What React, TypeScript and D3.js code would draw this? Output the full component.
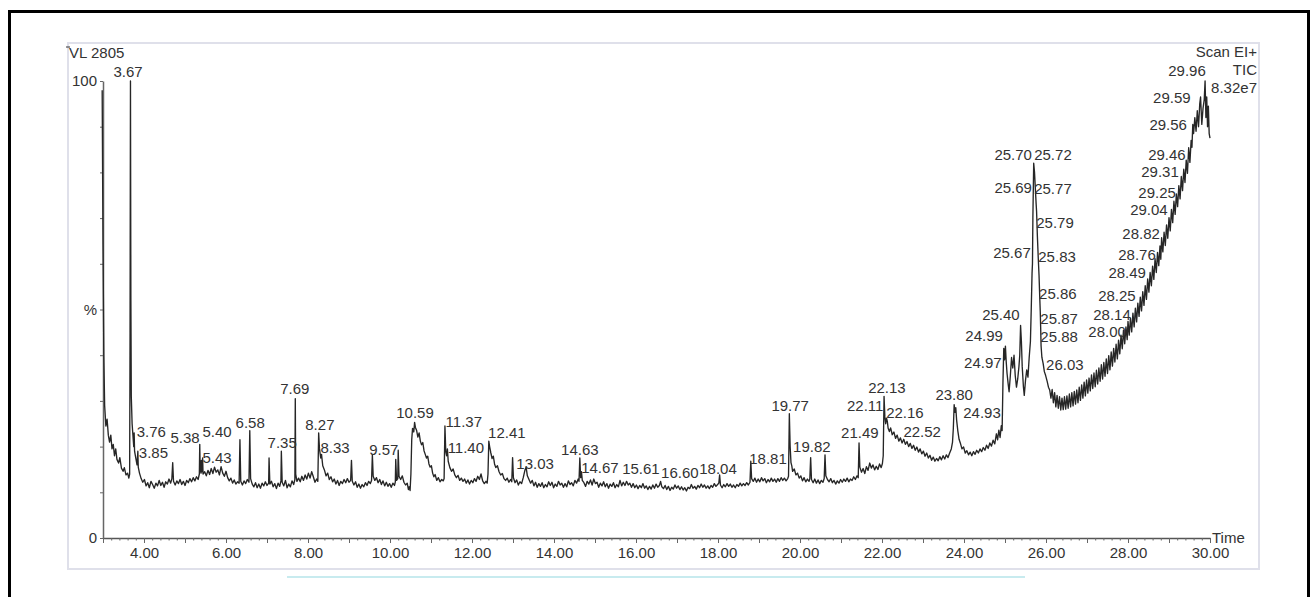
import React, { Component } from 'react'
import * as d3 from 'd3'

// TIC trace, [time (min), intensity (%)]
const ticTrace: [number, number][] = [
  [2.98, 98], [3.0, 64], [3.02, 40], [3.04, 29], [3.07, 24.5], [3.1, 26], [3.13, 22.5], [3.16, 21], [3.19, 22.5], [3.22, 19.5],
  [3.25, 20.5], [3.28, 18], [3.31, 19.5], [3.34, 17.2], [3.38, 16.4], [3.41, 17.6], [3.45, 15.3], [3.49, 14.6], [3.52, 15.4], [3.56, 13.8],
  [3.6, 14.2], [3.63, 13.1], [3.65, 14], [3.66, 45], [3.67, 100], [3.68, 52], [3.69, 31], [3.71, 25], [3.73, 22.5], [3.75, 20],
  [3.76, 23], [3.77, 19], [3.8, 17.5], [3.83, 16], [3.85, 19], [3.86, 15.5], [3.89, 14.2], [3.93, 13], [3.97, 12.2], [4.01, 12.8],
  [4.05, 11.4], [4.09, 12.1], [4.13, 11.0], [4.17, 12.4], [4.21, 11.7], [4.25, 10.9], [4.29, 12.0], [4.33, 11.4], [4.37, 12.6], [4.41, 11.5],
  [4.45, 12.2], [4.49, 11.1], [4.53, 12.3], [4.57, 11.8], [4.61, 12.9], [4.65, 12.0], [4.68, 13.0], [4.7, 16.5], [4.72, 12.4], [4.76, 11.6],
  [4.8, 12.5], [4.84, 11.9], [4.88, 12.8], [4.92, 11.7], [4.96, 12.4], [5.0, 11.5], [5.04, 12.6], [5.08, 12.1], [5.12, 13.0], [5.16, 12.3],
  [5.2, 13.2], [5.24, 12.5], [5.28, 13.4], [5.32, 12.8], [5.35, 14], [5.36, 20.5], [5.37, 15], [5.39, 14.2], [5.4, 17], [5.41, 14.5],
  [5.43, 17.5], [5.44, 14], [5.48, 14.5], [5.52, 13.6], [5.56, 14.8], [5.6, 13.9], [5.64, 15.2], [5.68, 14.1], [5.72, 15.5], [5.76, 14.4],
  [5.8, 14.9], [5.84, 13.8], [5.88, 15.6], [5.92, 14.2], [5.96, 13.5], [6.0, 14.6], [6.04, 13.2], [6.08, 12.5], [6.12, 13.1], [6.16, 12.0],
  [6.2, 12.7], [6.24, 11.8], [6.28, 12.3], [6.32, 12.0], [6.34, 21.5], [6.36, 12.4], [6.4, 11.6], [6.44, 12.5], [6.48, 11.9], [6.52, 12.8],
  [6.56, 12.2], [6.58, 23.5], [6.6, 13.0], [6.64, 11.8], [6.68, 11.2], [6.72, 12.1], [6.76, 11.0], [6.8, 11.8], [6.84, 10.9], [6.88, 12.0],
  [6.92, 11.4], [6.96, 12.3], [7.0, 11.5], [7.04, 12.0], [7.05, 17.5], [7.07, 11.8], [7.11, 12.4], [7.15, 11.2], [7.19, 11.9], [7.23, 10.8],
  [7.27, 12.0], [7.31, 11.3], [7.34, 12.5], [7.35, 19], [7.37, 12.2], [7.41, 11.4], [7.45, 12.6], [7.49, 11.0], [7.53, 11.8], [7.57, 11.2],
  [7.61, 12.5], [7.65, 11.7], [7.68, 12.8], [7.69, 30.5], [7.7, 14], [7.73, 12.4], [7.77, 13.1], [7.81, 12.3], [7.85, 13.5], [7.89, 12.6],
  [7.93, 13.8], [7.97, 12.9], [8.01, 14.2], [8.05, 13.1], [8.09, 14.5], [8.13, 13.4], [8.17, 12.2], [8.21, 12.9], [8.24, 12.4], [8.26, 23],
  [8.28, 19.5], [8.31, 17.5], [8.33, 18.3], [8.36, 15.8], [8.4, 14.9], [8.44, 13.6], [8.48, 14.2], [8.52, 12.8], [8.56, 13.4], [8.6, 12.3],
  [8.64, 12.9], [8.68, 11.8], [8.72, 12.6], [8.76, 11.5], [8.8, 12.4], [8.84, 11.9], [8.88, 12.8], [8.92, 12.1], [8.96, 13.0], [9.0, 12.2],
  [9.04, 12.6], [9.06, 17], [9.08, 12.4], [9.12, 11.6], [9.16, 12.3], [9.2, 11.1], [9.24, 11.8], [9.28, 10.9], [9.32, 11.7], [9.36, 11.2],
  [9.4, 12.1], [9.44, 11.5], [9.48, 12.4], [9.52, 11.9], [9.55, 12.6], [9.57, 18.2], [9.59, 13.5], [9.63, 12.6], [9.67, 13.2], [9.71, 12.1],
  [9.75, 12.8], [9.79, 11.7], [9.83, 12.5], [9.87, 11.4], [9.91, 12.2], [9.95, 11.3], [9.99, 11.9], [10.03, 11.1], [10.07, 12.0], [10.11, 11.5],
  [10.13, 12.3], [10.14, 17.2], [10.16, 12.6], [10.19, 13], [10.2, 19.2], [10.22, 13.5], [10.26, 12.8], [10.3, 13.6], [10.34, 12.2], [10.38, 11.6],
  [10.42, 12.0], [10.45, 10.6], [10.47, 11.2], [10.49, 10.4], [10.51, 14], [10.53, 21.5], [10.55, 24], [10.58, 23.2], [10.6, 25.3], [10.62, 24.2],
  [10.65, 23.5], [10.68, 22.1], [10.71, 23.0], [10.74, 21.2], [10.77, 20.4], [10.8, 20.9], [10.83, 19.1], [10.86, 18.3], [10.89, 17.5], [10.92, 17.9],
  [10.95, 16.2], [10.98, 15.5], [11.01, 15.8], [11.04, 14.2], [11.07, 13.4], [11.1, 13.9], [11.14, 12.6], [11.18, 13.2], [11.22, 12.3], [11.26, 12.8],
  [11.3, 12.5], [11.32, 13], [11.34, 24.5], [11.36, 19], [11.38, 18], [11.4, 19.5], [11.42, 16.8], [11.46, 15.4], [11.5, 14.6], [11.54, 15.1],
  [11.58, 13.8], [11.62, 13.2], [11.66, 13.7], [11.7, 12.6], [11.74, 13.1], [11.78, 12.4], [11.82, 12.9], [11.86, 12.0], [11.9, 12.7], [11.94, 11.8],
  [11.98, 12.6], [12.02, 12.1], [12.06, 13.0], [12.1, 12.4], [12.14, 13.5], [12.18, 12.8], [12.22, 14.0], [12.26, 12.5], [12.3, 11.9], [12.34, 12.4],
  [12.37, 12.0], [12.39, 14], [12.41, 21.2], [12.43, 20], [12.46, 18.6], [12.49, 17.4], [12.52, 17.9], [12.55, 16.2], [12.58, 15.4], [12.62, 15.8],
  [12.66, 14.5], [12.7, 13.8], [12.74, 14.1], [12.78, 13.0], [12.82, 12.6], [12.86, 13.1], [12.9, 12.2], [12.94, 12.8], [12.97, 12.3], [12.99, 17.6],
  [13.01, 13.2], [13.05, 12.1], [13.09, 12.7], [13.13, 11.6], [13.17, 12.3], [13.21, 11.9], [13.25, 13.2], [13.29, 14.8], [13.32, 15.5], [13.35, 13.6],
  [13.39, 12.8], [13.43, 12.0], [13.47, 12.6], [13.51, 11.4], [13.55, 12.2], [13.59, 11.1], [13.63, 11.9], [13.67, 11.3], [13.71, 12.1], [13.75, 11.0],
  [13.79, 11.7], [13.83, 11.2], [13.87, 12.3], [13.91, 11.5], [13.95, 12.2], [13.99, 11.0], [14.03, 11.8], [14.07, 11.3], [14.11, 12.4], [14.15, 11.6],
  [14.19, 12.0], [14.23, 11.1], [14.27, 11.9], [14.31, 11.2], [14.35, 12.5], [14.39, 11.7], [14.43, 12.1], [14.47, 11.4], [14.51, 12.6], [14.55, 12.0],
  [14.59, 12.9], [14.61, 12.4], [14.63, 17.5], [14.65, 13.2], [14.67, 14.5], [14.69, 12.6], [14.73, 12.1], [14.77, 11.3], [14.81, 12.4], [14.85, 11.8],
  [14.89, 12.7], [14.93, 11.6], [14.97, 12.9], [15.01, 11.9], [15.05, 12.2], [15.09, 11.1], [15.13, 12.0], [15.17, 11.4], [15.21, 12.3], [15.25, 11.2],
  [15.29, 11.9], [15.33, 10.9], [15.37, 11.8], [15.41, 11.3], [15.45, 12.1], [15.49, 11.0], [15.53, 11.7], [15.57, 11.2], [15.61, 12.6], [15.65, 11.4],
  [15.69, 12.2], [15.73, 11.5], [15.77, 12.4], [15.81, 11.6], [15.85, 12.0], [15.89, 11.1], [15.93, 11.9], [15.97, 11.0], [16.01, 11.6], [16.05, 10.8],
  [16.09, 11.5], [16.13, 11.0], [16.17, 11.9], [16.21, 10.9], [16.25, 11.4], [16.29, 10.6], [16.33, 11.3], [16.37, 10.7], [16.41, 11.6], [16.45, 10.9],
  [16.49, 11.8], [16.53, 11.1], [16.57, 11.5], [16.6, 12.4], [16.63, 11.2], [16.67, 10.8], [16.71, 11.5], [16.75, 10.6], [16.79, 11.3], [16.83, 10.4],
  [16.87, 11.1], [16.91, 10.7], [16.95, 11.6], [16.99, 10.9], [17.03, 11.4], [17.07, 10.6], [17.11, 11.2], [17.15, 10.5], [17.19, 11.0], [17.23, 10.3],
  [17.27, 11.1], [17.31, 10.8], [17.35, 11.7], [17.39, 10.9], [17.43, 11.3], [17.47, 10.7], [17.51, 11.5], [17.55, 11.0], [17.59, 11.8], [17.63, 11.1],
  [17.67, 11.6], [17.71, 10.9], [17.75, 11.4], [17.79, 10.8], [17.83, 11.5], [17.87, 11.1], [17.91, 11.9], [17.95, 11.3], [17.99, 11.7], [18.02, 12],
  [18.04, 13.8], [18.06, 11.6], [18.1, 11.0], [18.14, 11.7], [18.18, 11.2], [18.22, 11.9], [18.26, 11.3], [18.3, 11.8], [18.34, 11.1], [18.38, 11.6],
  [18.42, 11.0], [18.46, 11.7], [18.5, 11.3], [18.54, 12.0], [18.58, 11.4], [18.62, 11.9], [18.66, 11.5], [18.7, 12.1], [18.74, 11.6], [18.78, 12.2],
  [18.8, 16.8], [18.82, 13.0], [18.86, 12.4], [18.9, 13.1], [18.94, 12.2], [18.98, 12.9], [19.02, 12.3], [19.06, 13.2], [19.1, 12.5], [19.14, 13.0],
  [19.18, 12.1], [19.22, 12.8], [19.26, 12.3], [19.3, 13.1], [19.34, 12.4], [19.38, 12.9], [19.42, 12.2], [19.46, 13.0], [19.5, 12.4], [19.54, 13.2],
  [19.58, 12.6], [19.62, 13.1], [19.66, 12.5], [19.7, 13.0], [19.72, 13.5], [19.74, 27.2], [19.76, 20], [19.78, 16.5], [19.8, 15.8], [19.82, 14.6],
  [19.86, 15.1], [19.9, 13.8], [19.94, 14.2], [19.98, 13.1], [20.02, 13.6], [20.06, 12.5], [20.1, 13.2], [20.14, 12.3], [20.18, 12.9], [20.22, 12.4],
  [20.24, 13], [20.26, 17.6], [20.28, 12.8], [20.32, 12.1], [20.36, 12.9], [20.4, 12.0], [20.44, 12.7], [20.48, 11.9], [20.52, 12.6], [20.56, 12.2],
  [20.59, 13], [20.61, 18.2], [20.63, 13.6], [20.67, 12.8], [20.71, 12.3], [20.75, 13.0], [20.79, 12.1], [20.83, 12.6], [20.87, 11.8], [20.91, 12.5],
  [20.95, 12.0], [20.99, 12.8], [21.03, 12.2], [21.07, 12.9], [21.11, 12.4], [21.15, 13.1], [21.19, 12.3], [21.23, 12.9], [21.27, 12.6], [21.31, 13.4],
  [21.35, 12.8], [21.39, 13.6], [21.42, 13.2], [21.44, 20.8], [21.46, 15.5], [21.5, 14.4], [21.54, 15.2], [21.58, 14.1], [21.62, 15.6], [21.66, 14.8],
  [21.7, 16.4], [21.74, 15.3], [21.78, 16.0], [21.82, 14.9], [21.86, 15.7], [21.9, 15.0], [21.94, 16.2], [21.98, 15.4], [22.01, 16.3], [22.03, 18],
  [22.05, 31], [22.07, 26.5], [22.09, 25], [22.11, 26.2], [22.13, 25.5], [22.15, 24.0], [22.18, 23.3], [22.21, 24.1], [22.25, 22.6], [22.29, 23.2],
  [22.33, 21.8], [22.37, 22.5], [22.41, 21.2], [22.45, 21.9], [22.49, 20.8], [22.53, 21.6], [22.57, 20.5], [22.61, 21.1], [22.65, 20.0], [22.69, 20.7],
  [22.73, 19.6], [22.77, 20.3], [22.81, 19.2], [22.85, 19.9], [22.89, 18.8], [22.93, 19.5], [22.97, 18.4], [23.01, 19.0], [23.05, 17.9], [23.09, 18.6],
  [23.13, 17.5], [23.17, 18.1], [23.21, 17.0], [23.25, 17.7], [23.29, 16.8], [23.33, 17.4], [23.37, 16.9], [23.41, 17.8], [23.45, 17.1], [23.49, 18.0],
  [23.53, 17.3], [23.57, 18.2], [23.61, 17.6], [23.65, 18.6], [23.69, 19.5], [23.72, 21], [23.74, 24], [23.76, 29.2], [23.78, 27.5], [23.8, 28.5],
  [23.82, 25.8], [23.85, 23.4], [23.88, 21.6], [23.91, 20.8], [23.95, 19.5], [23.99, 19.9], [24.03, 18.6], [24.07, 19.1], [24.11, 18.2], [24.15, 18.8],
  [24.19, 18.0], [24.23, 18.9], [24.27, 18.3], [24.31, 19.2], [24.35, 18.6], [24.39, 19.5], [24.43, 18.9], [24.47, 19.8], [24.51, 19.2], [24.55, 20.3],
  [24.59, 19.6], [24.63, 20.8], [24.67, 20.1], [24.71, 21.4], [24.75, 20.6], [24.79, 22.8], [24.82, 21.5], [24.85, 23.6], [24.88, 22.0], [24.91, 24.6],
  [24.93, 23.5], [24.95, 34], [24.97, 41.5], [24.99, 39], [25.01, 42], [25.03, 38.5], [25.05, 36], [25.08, 33.5], [25.1, 32], [25.13, 35.5],
  [25.16, 39.5], [25.19, 37.2], [25.22, 40], [25.25, 35.5], [25.28, 33], [25.31, 34.8], [25.34, 37.5], [25.36, 40], [25.38, 46.5], [25.4, 43],
  [25.42, 37.5], [25.45, 33], [25.47, 31.2], [25.5, 34.5], [25.53, 36.8], [25.56, 35.2], [25.59, 39.5], [25.62, 43], [25.64, 50], [25.66, 58],
  [25.67, 60], [25.68, 70], [25.69, 76], [25.7, 82], [25.71, 81], [25.72, 80], [25.74, 76.5], [25.76, 73], [25.77, 71.5], [25.79, 66],
  [25.81, 61.5], [25.83, 57.5], [25.85, 52], [25.86, 49.5], [25.87, 46], [25.88, 42], [25.9, 39.5], [25.93, 38.2], [25.96, 36.4], [25.99, 35.6],
  [26.03, 34.2], [26.06, 33.0], [26.09, 32.4], [26.12, 30.6], [26.15, 32.5], [26.18, 29.6], [26.21, 31.8], [26.24, 28.7], [26.27, 31.2], [26.3, 28.4],
  [26.33, 30.9], [26.36, 28.0], [26.39, 30.6], [26.42, 28.1], [26.45, 30.9], [26.48, 28.2], [26.51, 31.1], [26.54, 28.4], [26.57, 31.5], [26.6, 28.7],
  [26.63, 31.8], [26.66, 28.9], [26.69, 32.1], [26.72, 29.3], [26.75, 32.4], [26.78, 29.6], [26.81, 33.0], [26.84, 30.1], [26.87, 33.5], [26.9, 30.6],
  [26.93, 34.1], [26.96, 31.1], [26.99, 34.6], [27.02, 31.7], [27.05, 35.0], [27.08, 32.2], [27.11, 35.7], [27.14, 32.7], [27.17, 36.1], [27.2, 33.1],
  [27.23, 36.7], [27.26, 33.7], [27.29, 37.2], [27.32, 34.3], [27.35, 37.9], [27.38, 34.8], [27.41, 38.4], [27.44, 35.4], [27.47, 39.2], [27.5, 36.0],
  [27.53, 39.9], [27.56, 36.8], [27.59, 40.7], [27.62, 37.6], [27.65, 41.5], [27.68, 38.5], [27.71, 42.4], [27.74, 39.2], [27.77, 43.3], [27.8, 40.3],
  [27.83, 44.4], [27.86, 41.4], [27.89, 45.5], [27.92, 42.5], [27.95, 46.2], [27.98, 43.4], [28.0, 47.4], [28.03, 44.4], [28.06, 48.1], [28.09, 45.1],
  [28.12, 49.2], [28.15, 46.2], [28.18, 50.3], [28.21, 47.3], [28.24, 51.4], [28.27, 48.5], [28.3, 52.7], [28.33, 49.7], [28.36, 53.9], [28.39, 50.9],
  [28.42, 55.2], [28.45, 52.2], [28.48, 56.7], [28.51, 53.8], [28.54, 58.1], [28.57, 55.2], [28.6, 59.5], [28.63, 56.6], [28.66, 61.1], [28.69, 58.1],
  [28.72, 62.5], [28.75, 59.6], [28.78, 63.9], [28.8, 61.0], [28.82, 65.7], [28.85, 62.6], [28.88, 66.9], [28.91, 64.0], [28.94, 68.5], [28.97, 65.6],
  [29.0, 70.1], [29.03, 67.2], [29.06, 71.9], [29.09, 69.0], [29.12, 73.7], [29.15, 70.8], [29.18, 75.3], [29.21, 72.5], [29.24, 77.1], [29.27, 74.2],
  [29.3, 79.1], [29.33, 76.0], [29.36, 80.7], [29.39, 77.8], [29.42, 82.7], [29.45, 79.8], [29.48, 85.4], [29.51, 82.2], [29.54, 87.0], [29.56, 85.5],
  [29.58, 90.5], [29.6, 88.5], [29.63, 92.0], [29.66, 89.0], [29.69, 93.5], [29.72, 90.0], [29.75, 95.0], [29.77, 96.5], [29.8, 90.5], [29.83, 94.0],
  [29.86, 96.0], [29.88, 100], [29.9, 92.0], [29.92, 96.5], [29.94, 90.0], [29.96, 94.5], [29.98, 88.5], [30.0, 87.5]
]

// peak labels as printed, with where each label sits [time, %]
const peakLabels = [
  '3.67', '3.76', '3.85', '5.38', '5.40', '5.43', '6.58', '7.35', '7.69', '8.27',
  '8.33', '9.57', '10.59', '11.37', '11.40', '12.41', '13.03', '14.63', '14.67', '15.61',
  '16.60', '18.04', '18.81', '19.77', '19.82', '21.49', '22.11', '22.13', '22.16', '22.52',
  '23.80', '24.93', '24.97', '24.99', '25.40', '25.67', '25.69', '25.70', '25.72', '25.77',
  '25.79', '25.83', '25.86', '25.87', '25.88', '26.03', '28.00', '28.14', '28.25', '28.49',
  '28.76', '28.82', '29.04', '29.25', '29.31', '29.46', '29.56', '29.59', '29.96'
]
const labelAt: [number, number][] = [
  [3.61, 102], [4.18, 23.2], [4.23, 18.8], [5.0, 22.1], [5.78, 23.2], [5.78, 17.7], [6.59, 25.2], [7.37, 20.8], [7.68, 32.8], [8.29, 24.9],
  [8.66, 19.9], [9.85, 19.3], [10.61, 27.4], [11.8, 25.6], [11.85, 19.9], [12.85, 23], [13.54, 16.4], [14.63, 19.3], [15.12, 15.5], [16.12, 15.3],
  [17.07, 14.4], [18.0, 15.3], [19.22, 17.5], [19.76, 28.9], [20.29, 20.1], [21.46, 23], [21.59, 29.1], [22.12, 33], [22.56, 27.4], [22.98, 23.4],
  [23.76, 31.5], [24.44, 27.4], [24.46, 38.3], [24.49, 44.4], [24.9, 48.8], [25.17, 62.4], [25.2, 76.6], [25.2, 84], [26.17, 84], [26.17, 76.4],
  [26.22, 69], [26.27, 61.7], [26.29, 53.6], [26.32, 48.1], [26.32, 44], [26.46, 38], [27.49, 45.1], [27.61, 49], [27.73, 53], [27.98, 58.2],
  [28.22, 62.1], [28.32, 66.7], [28.51, 71.8], [28.71, 75.7], [28.78, 80.1], [28.95, 84], [28.98, 90.4], [29.07, 96.3], [29.44, 102.4]
]

const xLabelTicks = d3.range(4, 30.01, 2)
const xMajorTicks = d3.range(3, 30.01, 1)
const xMinorTicks = d3.range(3, 30.01, 0.2)
const yTicks = d3.range(0, 100.1, 10)
const headerLeft = 'VL 2805'
const headerRight = ['Scan EI+', 'TIC', '8.32e7']

const FONT = '"Liberation Sans", Arial, sans-serif'
const INK = '#333'

export default class App extends Component {
  node: SVGSVGElement | null = null

  componentDidMount() {
    this.draw()
  }
  componentDidUpdate() {
    this.draw()
  }

  draw() {
    const width = 1311, height = 597
    const svg = d3.select(this.node)
    svg.selectAll('*').remove()
    svg.attr('width', width).attr('height', height)

    const x = d3.scaleLinear().domain([3, 30]).range([103, 1210])
    const y = d3.scaleLinear().domain([0, 100]).range([538, 81])

    // outer black frame and the light plot box
    svg.append('rect').attr('x', 9.5).attr('y', 11.5).attr('width', 1299).attr('height', 640)
      .attr('fill', 'none').attr('stroke', '#000').attr('stroke-width', 3)
    svg.append('rect').attr('x', 68).attr('y', 43).attr('width', 1191).attr('height', 526)
      .attr('fill', 'none').attr('stroke', '#dfe0ea').attr('stroke-width', 2)
    svg.append('line').attr('x1', 287).attr('x2', 1025).attr('y1', 577).attr('y2', 577)
      .attr('stroke', '#c8ebef').attr('stroke-width', 2)

    // x axis
    const xAxisG = svg.append('g').attr('transform', 'translate(0,' + y(0) + ')')
    xAxisG.append('g')
      .call(d3.axisBottom(x).tickValues(xMinorTicks).tickSize(2.5).tickSizeOuter(0).tickFormat(() => ''))
    xAxisG.append('g')
      .call(d3.axisBottom(x).tickValues(xMajorTicks).tickSize(5).tickSizeOuter(0).tickFormat(() => ''))
      .select('.domain').remove()
    xAxisG.append('g')
      .call(d3.axisBottom(x).tickValues(xLabelTicks).tickSize(5).tickPadding(4).tickSizeOuter(0).tickFormat(d3.format('.2f')))
      .select('.domain').remove()
    xAxisG.selectAll('line').attr('stroke', '#666')
    xAxisG.selectAll('.domain').attr('stroke', '#555').attr('stroke-width', 1.3)
    xAxisG.selectAll('text').attr('font-family', FONT).attr('font-size', 15).attr('fill', INK)
    xAxisG.append('text').text('Time').attr('x', x(30) + 2).attr('y', 5)
      .attr('font-family', FONT).attr('font-size', 15).attr('fill', INK)

    // y axis
    const yAxisG = svg.append('g').attr('transform', 'translate(' + x(3) + ',0)')
      .call(d3.axisLeft(y).tickValues(yTicks).tickSize(3).tickSizeOuter(0)
        .tickFormat((d: any) => (d === 0 ? '0' : d === 100 ? '100' : d === 50 ? '%' : '')))
    yAxisG.selectAll('line').attr('stroke', '#666')
    yAxisG.select('.domain').attr('stroke', '#666').attr('stroke-width', 1.5)
    yAxisG.selectAll('text').attr('font-family', FONT).attr('font-size', 15).attr('fill', INK)

    // header texts
    svg.append('text').text(headerLeft).attr('x', 69).attr('y', 58)
      .attr('font-family', FONT).attr('font-size', 15).attr('fill', INK)
    svg.append('line').attr('x1', 66).attr('x2', 70).attr('y1', 47).attr('y2', 47).attr('stroke', INK)
    svg.selectAll('text.hdr').data(headerRight).enter().append('text').attr('class', 'hdr')
      .text(d => d).attr('x', 1257).attr('y', (d, i) => 57 + i * 18)
      .attr('text-anchor', 'end').attr('font-family', FONT).attr('font-size', 15).attr('fill', INK)

    // trace
    const line = d3.line<[number, number]>().x(d => x(d[0])).y(d => y(d[1]))
    svg.append('path').datum(ticTrace).attr('d', line)
      .attr('fill', 'none').attr('stroke', '#262626').attr('stroke-width', 1.35).attr('stroke-linejoin', 'round')

    // peak labels
    svg.append('g').selectAll('text').data(peakLabels).enter().append('text')
      .text(d => d)
      .attr('x', (d, i) => x(labelAt[i][0]))
      .attr('y', (d, i) => y(labelAt[i][1]) + 5.5)
      .attr('text-anchor', 'middle')
      .attr('font-family', FONT).attr('font-size', 15).attr('fill', INK)
  }

  render() {
    return <svg ref={node => { this.node = node }} style={{ position: 'absolute', left: 0, top: 0 }}></svg>
  }
}
